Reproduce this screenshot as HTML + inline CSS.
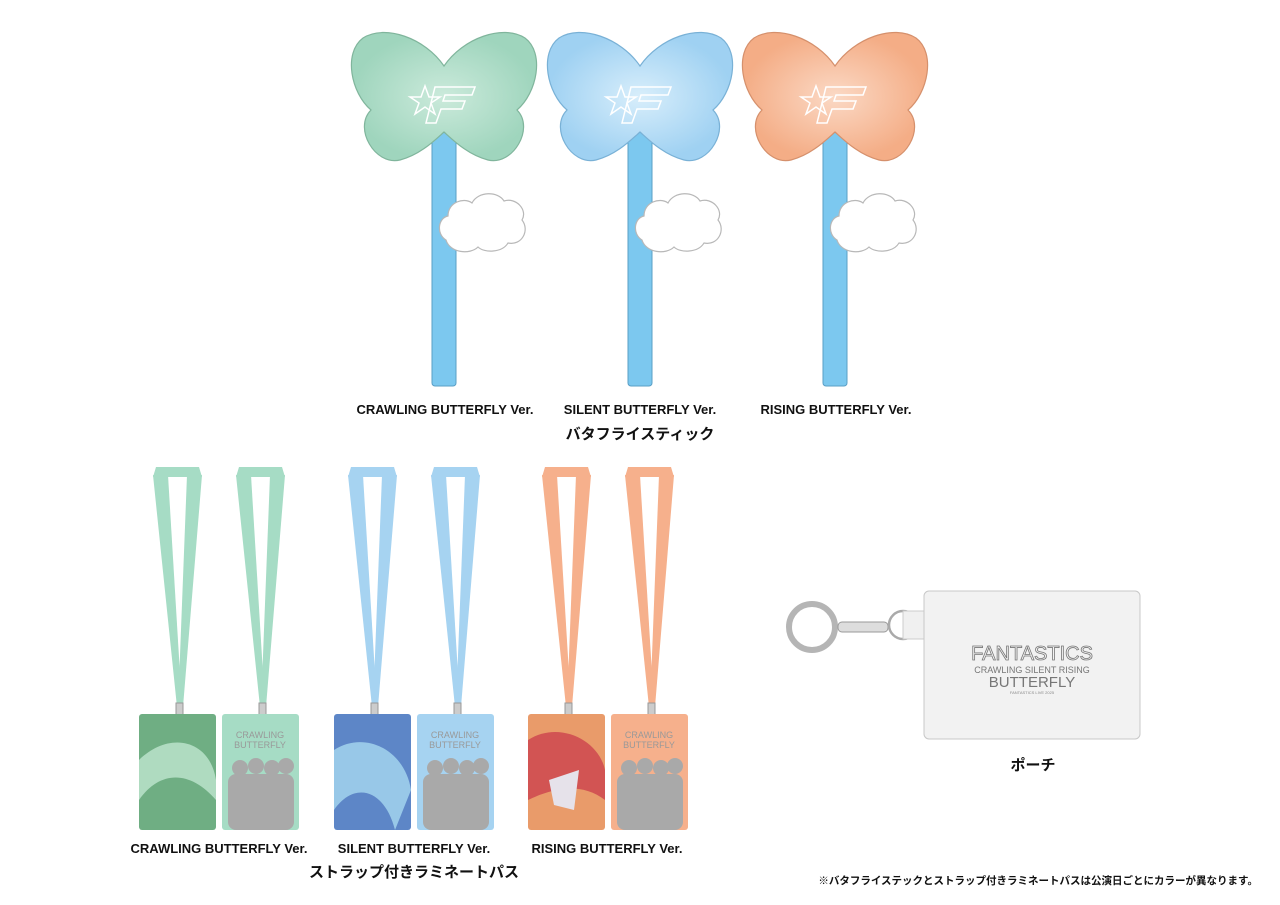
<!DOCTYPE html>
<html><head><meta charset="utf-8"><style>
html,body{margin:0;padding:0;background:#fff;}
svg{display:block}
text{font-family:"Liberation Sans","Noto Sans CJK JP",sans-serif;font-weight:bold;fill:#111}
</style></head><body>
<svg width="1280" height="905" viewBox="0 0 1280 905" xmlns="http://www.w3.org/2000/svg">
<defs>
<path id="bf" d="M91,38 C110,10 150,-4 172,10 C192,25 184,65 164,82 C182,100 160,138 135,132 C115,127 100,112 91,104 C82,112 67,127 47,132 C22,138 0,100 18,82 C-2,65 -10,25 10,10 C32,-4 72,10 91,38Z"/>
<path id="cloud" d="M10,52 C0,46 2,30 12,28 C12,14 28,9 36,15 C42,3 62,3 68,13 C80,9 92,22 86,32 C94,42 86,58 72,55 C66,65 48,65 42,59 C34,67 14,65 10,52Z"/>
<radialGradient id="gg"><stop offset="0" stop-color="#cbeadb"/><stop offset="1" stop-color="#9fd5bd"/></radialGradient>
<radialGradient id="gb"><stop offset="0" stop-color="#d8eefb"/><stop offset="1" stop-color="#9fd1f2"/></radialGradient>
<radialGradient id="go"><stop offset="0" stop-color="#fbd9c5"/><stop offset="1" stop-color="#f4ad86"/></radialGradient>
<g id="stick">
 <rect x="92" y="100" width="24" height="260" rx="3" fill="#7cc8ef" stroke="#5a9fc6"/>
 <use href="#cloud" x="96" y="162" fill="#fff" stroke="#b8b8b8" stroke-width="1.2"/>
</g>
<g id="logo" fill="none" stroke="#fff" stroke-width="1.5">
 <polygon points="72,58 76,69 87,69 78,75 82,86 72,79 62,86 66,75 57,69 68,69"/>
 <path d="M82,59 L122,59 L119,67 L92,67 L90,73 L112,73 L109,81 L88,81 L83,95 L73,95 Z"/>
</g>
<g id="lan">
 <polygon points="0,8 15,8 29,240 24,240" fill="#a6dcc5"/>
 <polygon points="34,8 49,8 30,240 25,240" fill="#a6dcc5"/>
 <polygon points="3,0 46,0 49,10 0,10" fill="#a6dcc5"/>
</g>
<g id="back">
 <rect x="0" y="0" width="77" height="116" rx="3"/>
 <g fill="#a9a9a9">
  <circle cx="18" cy="54" r="8"/><circle cx="34" cy="52" r="8"/><circle cx="50" cy="54" r="8"/><circle cx="64" cy="52" r="8"/>
  <rect x="6" y="60" width="66" height="56" rx="8"/>
 </g>
 <text x="38" y="24" font-size="9" text-anchor="middle" style="fill:#999;font-weight:normal">CRAWLING</text>
 <text x="38" y="34" font-size="9" text-anchor="middle" style="fill:#999;font-weight:normal">BUTTERFLY</text>
</g>
</defs>

<g transform="translate(340,26)">
 <use href="#stick"/><use href="#bf" x="13" y="2" fill="url(#gg)" stroke="#80b59c" stroke-width="1.2"/><use href="#logo" x="13" y="2"/>
</g>
<g transform="translate(536,26)">
 <use href="#stick"/><use href="#bf" x="13" y="2" fill="url(#gb)" stroke="#79b1d6" stroke-width="1.2"/><use href="#logo" x="13" y="2"/>
</g>
<g transform="translate(731,26)">
 <use href="#stick"/><use href="#bf" x="13" y="2" fill="url(#go)" stroke="#d5906c" stroke-width="1.2"/><use href="#logo" x="13" y="2"/>
</g>
<text x="445" y="414" font-size="13" text-anchor="middle">CRAWLING BUTTERFLY Ver.</text>
<text x="640" y="414" font-size="13" text-anchor="middle">SILENT BUTTERFLY Ver.</text>
<text x="836" y="414" font-size="13" text-anchor="middle">RISING BUTTERFLY Ver.</text>
<text x="640" y="439" font-size="15" text-anchor="middle">バタフライスティック</text>

<g>
 <use href="#lan" x="153" y="467"/><use href="#lan" x="236" y="467"/>
 <rect x="176" y="703" width="7" height="14" fill="#ccc" stroke="#999"/>
 <rect x="259" y="703" width="7" height="14" fill="#ccc" stroke="#999"/>
 <rect x="139" y="714" width="77" height="116" rx="3" fill="#6fae83"/>
 <path d="M139,760 C170,730 210,740 216,780 L216,800 C190,770 160,770 139,800Z" fill="#bfe6cf" opacity=".8"/>
 <use href="#back" x="222" y="714" fill="#a6dcc5"/>
</g>
<g transform="translate(195,0)">
 <polygon points="153,475 168,475 182,707 177,707" fill="#a6d3f1"/><polygon points="187,475 202,475 183,707 178,707" fill="#a6d3f1"/><polygon points="156,467 199,467 202,477 153,477" fill="#a6d3f1"/>
 <polygon points="236,475 251,475 265,707 260,707" fill="#a6d3f1"/><polygon points="270,475 285,475 266,707 261,707" fill="#a6d3f1"/><polygon points="239,467 282,467 285,477 236,477" fill="#a6d3f1"/>
 <rect x="176" y="703" width="7" height="14" fill="#ccc" stroke="#999"/>
 <rect x="259" y="703" width="7" height="14" fill="#ccc" stroke="#999"/>
 <rect x="139" y="714" width="77" height="116" rx="3" fill="#5d86c7"/>
 <path d="M139,750 C170,730 210,750 216,790 L200,830 C190,790 160,780 139,810Z" fill="#a8d8f0" opacity=".8"/>
 <use href="#back" x="222" y="714" fill="#a6d3f1"/>
</g>
<g transform="translate(389,0)">
 <polygon points="153,475 168,475 182,707 177,707" fill="#f6b08c"/><polygon points="187,475 202,475 183,707 178,707" fill="#f6b08c"/><polygon points="156,467 199,467 202,477 153,477" fill="#f6b08c"/>
 <polygon points="236,475 251,475 265,707 260,707" fill="#f6b08c"/><polygon points="270,475 285,475 266,707 261,707" fill="#f6b08c"/><polygon points="239,467 282,467 285,477 236,477" fill="#f6b08c"/>
 <rect x="176" y="703" width="7" height="14" fill="#ccc" stroke="#999"/>
 <rect x="259" y="703" width="7" height="14" fill="#ccc" stroke="#999"/>
 <rect x="139" y="714" width="77" height="116" rx="3" fill="#e99b6a"/>
 <path d="M139,740 C170,720 210,740 216,770 L216,800 C190,780 160,790 139,800Z" fill="#c8364a" opacity=".7"/>
 <path d="M160,780 L190,770 L185,810 L165,805Z" fill="#e6e2ea"/>
 <use href="#back" x="222" y="714" fill="#f6b08c"/>
</g>
<text x="219" y="853" font-size="13" text-anchor="middle">CRAWLING BUTTERFLY Ver.</text>
<text x="414" y="853" font-size="13" text-anchor="middle">SILENT BUTTERFLY Ver.</text>
<text x="607" y="853" font-size="13" text-anchor="middle">RISING BUTTERFLY Ver.</text>
<text x="414" y="877" font-size="15" text-anchor="middle">ストラップ付きラミネートパス</text>

<circle cx="812" cy="627" r="23" fill="none" stroke="#b5b5b5" stroke-width="6"/>
<rect x="838" y="622" width="50" height="10" rx="4" fill="#ddd" stroke="#999"/>
<circle cx="903" cy="625" r="14" fill="none" stroke="#aaa" stroke-width="2.5"/>
<rect x="903" y="611" width="22" height="28" fill="#f0f0f0" stroke="#ccc"/>
<rect x="924" y="591" width="216" height="148" rx="5" fill="#f2f2f2" stroke="#c8c8c8"/>
<text x="1032" y="660" font-size="20" text-anchor="middle" style="fill:none;stroke:#777;stroke-width:.8;font-weight:normal">FANTASTICS</text>
<text x="1032" y="673" font-size="9" text-anchor="middle" style="fill:#777;font-weight:normal">CRAWLING SILENT RISING</text>
<text x="1032" y="687" font-size="15" text-anchor="middle" style="fill:#777;font-weight:normal">BUTTERFLY</text>
<text x="1032" y="694" font-size="4" text-anchor="middle" style="fill:#888;font-weight:normal">FANTASTICS LIVE 2025</text>
<text x="1033" y="770" font-size="15" text-anchor="middle">ポーチ</text>
<text x="1258" y="884" font-size="10.5" text-anchor="end">※バタフライステックとストラップ付きラミネートパスは公演日ごとにカラーが異なります。</text>
</svg>
</body></html>
